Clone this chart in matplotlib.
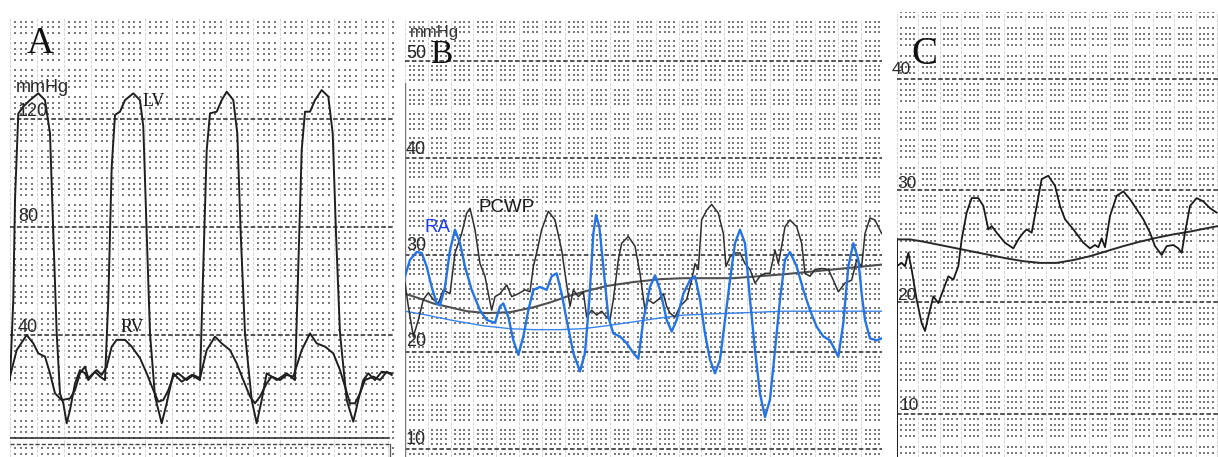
import numpy as np
import matplotlib
matplotlib.use("Agg")
import matplotlib.pyplot as plt

# ---------------- data ----------------
# Panel A : LV and RV pressure (mmHg) vs time (arbitrary units)
A_t_lv = [10, 13.3, 15, 18.3, 23.3, 30, 38.3, 45, 50, 53.3, 56.7, 60, 63.3, 66.7, 70, 75, 80, 85, 88.3, 95,
          100, 105, 108.3, 111.7, 115, 120, 125, 133.3, 140, 143.3, 146.7, 150, 155, 161.7, 166.7, 173.3,
          181.7, 191.7, 200, 203.3, 206.7, 210, 216.7, 221.7, 226.7, 233.3, 237.3, 240.7, 245, 251.7,
          256.7, 261.7, 266.7, 276.7, 286.7, 295, 298.3, 301.7, 305, 310, 315, 321.7, 328.3, 332.7, 336,
          340, 346.7, 353.3, 358.3, 363.3, 368.3, 375, 381.7, 391.7]
A_lv = [23.3, 53, 90, 122, 124.6, 127, 129.5, 127, 114.7, 77.7, 40.6, 18.4, 14.7, 7.3, 12.2, 22.1, 27, 25.8,
        23.3, 26.4, 24.6, 23.3, 53, 102.3, 121.5, 122.7, 127, 129.5, 127, 117.2, 77.7, 40.6, 17.2, 7.3,
        14.7, 25.8, 22.7, 25.2, 23.3, 65.3, 108.5, 122.1, 122.7, 127, 130.1, 127, 114.7, 77.7, 40.6, 15.9,
        7.3, 15.9, 25.8, 23.3, 25.8, 23.3, 65.3, 108.5, 122.7, 122.7, 127, 130.7, 128.3, 114.7, 77.7, 40.6,
        15.9, 7.9, 15.9, 23.3, 25.8, 23.3, 26.4, 25.8]
A_t_rv = [10, 16.7, 26.7, 33.3, 38.3, 45, 50, 55, 61.7, 70, 75, 80, 85, 88.3, 96.7, 101.7, 106.7, 111.7,
          116.7, 125, 131.7, 140, 146.7, 153.3, 158.3, 163.3, 168.3, 173.3, 178.3, 186.7, 193.3, 200,
          206.7, 215, 221.7, 230, 236.7, 243.3, 250, 255, 260, 266.7, 271.7, 280, 286.7, 293.3, 301.7,
          310, 316.7, 325, 333.3, 340, 345, 350, 355, 360, 365, 373.3, 380, 386.7, 391.7]
A_rv = [24.6, 34.4, 40, 36.9, 33.2, 32, 25.8, 18.4, 15.9, 16.5, 19.6, 25.8, 28.3, 24, 27, 25.2, 28.3, 35.7,
        38.2, 38.2, 35.7, 31.4, 25.8, 19.6, 15.3, 15.9, 19.6, 24.6, 25.8, 23.3, 25.2, 24, 34.4, 39.4, 36.9,
        34.4, 29.5, 23.3, 17.2, 14.7, 17.2, 22.1, 24.6, 23.3, 25.2, 24.6, 34.4, 40.6, 36.9, 35.7, 33.2, 27,
        20.9, 14.7, 14.7, 18.4, 23.3, 24.6, 23.3, 26.4, 25.2]
A_ticks = ["120", "80", "40"]
A_tick_vals = [120, 80, 40]

# Panel B : PCWP and RA (mmHg)
B_t_pcwp = [15, 25, 40, 55, 70, 85, 100, 115, 130, 150, 165, 185, 200, 210, 225, 240, 255, 265, 275, 285,
            300, 320, 335, 355, 375, 390, 400, 410, 425, 445, 465, 485, 495, 510, 520, 535, 550, 560, 575,
            590, 605, 620, 630, 640, 655, 665, 685, 705, 720, 735, 745, 760, 775, 790, 800, 810, 825, 840,
            860, 875, 885, 895, 905, 920, 935, 955, 970, 978, 990, 1005, 1020, 1035, 1050, 1065, 1080,
            1095, 1110, 1125, 1135, 1145, 1155, 1170, 1190, 1205, 1215, 1230, 1245, 1265, 1285, 1300,
            1315, 1335, 1355, 1370, 1385, 1395, 1410, 1425, 1445]
B_pcwp = [27.1, 24.7, 21.6, 23.3, 25.4, 26.1, 25.4, 25, 26.4, 26, 30.2, 32.2, 34.3, 34.8, 32.6, 29.1, 27.8,
          26, 24.3, 25.7, 26, 26.9, 25.7, 26, 26.4, 26.2, 28.8, 30.2, 32.6, 34.5, 33.6, 30.5, 28.1, 24.7,
          26.4, 25.7, 26.2, 23.6, 24.3, 23.8, 24.2, 23.6, 23.3, 25.4, 29.5, 31.2, 31.9, 30.9, 28.1, 24.3,
          25.4, 25, 25.4, 26, 24.7, 24, 23.6, 24.7, 25.4, 27.4, 29.1, 28.5, 33.6, 34.6, 35.2, 34.3, 32.2,
          28.8, 29.8, 30.2, 30.2, 29.1, 28.5, 27.1, 27.8, 28.1, 28.1, 30.5, 29.1, 30.9, 32.9, 33.6, 32.9,
          31.2, 28.1, 27.8, 28.5, 28.6, 28.5, 27.4, 26.2, 27.1, 27.4, 29.5, 28.8, 32.2, 33.8, 33.6, 32.2]
B_t_ra = [15, 30, 50, 65, 80, 95, 110, 120, 135, 150, 165, 180, 195, 215, 240, 260, 285, 300, 310, 325,
          340, 355, 370, 385, 400, 420, 440, 455, 470, 485, 500, 520, 540, 555, 568, 580, 588, 598, 610,
          625, 640, 660, 680, 700, 715, 730, 750, 765, 780, 800, 815, 830, 850, 870, 885, 900, 915, 930,
          945, 960, 975, 990, 1005, 1020, 1035, 1050, 1065, 1080, 1095, 1110, 1125, 1140, 1155, 1170,
          1190, 1210, 1230, 1250, 1270, 1290, 1305, 1315, 1330, 1345, 1360, 1375, 1385, 1395, 1410,
          1430, 1445]
B_ra = [27.8, 29.5, 30.3, 30.2, 28.8, 26.7, 25, 24.8, 26.7, 30.5, 32.6, 31.2, 28.8, 26.4, 24.3, 23.3, 23,
        24.7, 25, 23.6, 21.2, 19.7, 21.6, 24.3, 26.4, 26.7, 26.4, 27.8, 28.1, 26, 23.3, 19.9, 18, 19.9,
        25.4, 32.2, 34.1, 32.9, 28.8, 23.6, 21.9, 21.6, 20.9, 19.9, 19.3, 23.3, 26.7, 27.9, 26.4, 23.3,
        22.1, 23.3, 26, 27.4, 27.8, 25.4, 21.9, 19.2, 17.8, 19.2, 23.3, 27.4, 31.2, 32.6, 31.2, 25.4,
        20.2, 15.7, 13.3, 15.1, 20.2, 25.4, 29.5, 30.3, 28.8, 26.4, 24.3, 22.6, 21.6, 21.2, 20.2, 19.5,
        23, 28.8, 31.2, 29.5, 26, 23.3, 21.4, 21.2, 21.4]
B_t_pcwp_mean = [15, 60, 100, 150, 200, 260, 330, 400, 450, 500, 550, 620, 700, 780, 850, 1000, 1150,
                 1300, 1445]
B_pcwp_mean = [26.0, 25.5, 25.0, 24.6, 24.2, 24.0, 24.1, 24.6, 25.1, 25.7, 26.2, 26.8, 27.2, 27.5, 27.6,
               27.6, 28.0, 28.5, 29.0]
B_t_ra_mean = [15, 80, 150, 250, 330, 400, 480, 550, 620, 700, 780, 850, 1000, 1150, 1300, 1445]
B_ra_mean = [24.2, 23.8, 23.3, 22.7, 22.4, 22.3, 22.3, 22.4, 22.7, 23.1, 23.5, 23.8, 24.0, 24.2, 24.2, 24.2]
B_ticks = ["50", "40", "30", "20", "10"]
B_tick_vals = [50, 40, 30, 20, 10]

# Panel C : pressure trace (mmHg)
C_t = [20, 35, 45, 55, 65, 80, 95, 105, 115, 130, 145, 160, 175, 190, 205, 215, 230, 245, 265, 280, 295,
       305, 320, 345, 370, 385, 400, 410, 425, 440, 455, 475, 495, 510, 525, 550, 580, 600, 615, 625, 635,
       645, 660, 680, 700, 720, 740, 760, 780, 795, 815, 830, 850, 865, 875, 885, 900, 920, 940, 960, 980]
C_p = [23.2, 23.5, 23.2, 24.4, 22.9, 20.2, 18.1, 17.4, 18.7, 20.5, 19.9, 21.1, 22.3, 22, 23.2, 25.6, 28,
       29.3, 29.3, 28.6, 26.5, 26.8, 26.2, 25.3, 24.8, 25.6, 26.2, 26.5, 26.2, 28.6, 31, 31.3, 30.4, 28.6,
       27.4, 26.5, 25.3, 24.8, 25.1, 24.9, 25.7, 24.9, 27.7, 29.5, 29.9, 29.2, 28.3, 27.4, 26.2, 25, 24.2,
       25, 25.1, 24.8, 24.4, 26.2, 28.6, 29.3, 29, 28.4, 28]
C_t_mean = [20, 60, 100, 150, 200, 250, 300, 350, 400, 450, 500, 550, 600, 650, 700, 750, 800, 850, 900,
            950, 985]
C_mean = [25.6, 25.6, 25.4, 25.1, 24.8, 24.5, 24.2, 23.9, 23.65, 23.5, 23.5, 23.75, 24.1, 24.55, 25.0,
          25.4, 25.75, 26.05, 26.3, 26.6, 26.8]
C_ticks = ["40", "30", "20", "10"]
C_tick_vals = [40, 30, 20, 10]

# ---------------- figure ----------------
W, H = 1218, 457
fig = plt.figure(figsize=(W / 100, H / 100), dpi=100)
fig.patch.set_facecolor("white")

SANS = "Liberation Sans"
SERIF = "Liberation Serif"
INK = "#1f1f1f"
DASH = "#262626"


def add_ax(px0, py0, px1, py1, xlim, ylim):
    ax = fig.add_axes([px0 / W, 1 - py1 / H, (px1 - px0) / W, (py1 - py0) / H])
    ax.set_xlim(*xlim)
    ax.set_ylim(*ylim)
    ax.axis("off")
    return ax


def paper(ax, x0, x1, bx, y0, y1, by):
    xs = x0 + np.arange(int((x1 - x0) / bx * 5) + 2) * bx / 5
    kx = np.arange(len(xs))
    ys = y0 + np.arange(int((y1 - y0) / by * 5) + 2) * by / 5
    ky = np.arange(len(ys))
    X, Y = np.meshgrid(xs[kx % 5 != 0], ys[ky % 5 != 0])
    ax.scatter(X.ravel(), Y.ravel(), s=1.5, marker="s", c="#7a7a7a", linewidths=0, zorder=1)
    for xv in xs[kx % 5 == 0]:
        ax.axvline(xv, color="#cfcfcf", lw=0.6, dashes=(4, 1.5), zorder=1)


def ptext(x, y, s, **kw):
    fig.text(x / W, 1 - y / H, s, va="center", ha="left", **kw)


# Panel A
axA = add_ax(10, 18, 393, 457, (10, 393), (-5.19, 157.4))
paper(axA, 10, 393, 27, -10, 157.4, 10)
for v in A_tick_vals:
    axA.axhline(v, color=DASH, lw=1.1, dashes=(3, 1.5), zorder=2)
axA.axhline(2.0, xmax=0.99, color="#333333", lw=1.2, zorder=2)
axA.axhline(-0.2, xmax=0.99, color="#444444", lw=1.0, dashes=(3, 1.5), zorder=2)
axA.plot([390, 390], [-0.2, -5.19], color="#555555", lw=0.9, zorder=2)
axA.plot(A_t_lv, A_lv, color=INK, lw=1.4, zorder=3)
axA.plot(A_t_rv, A_rv, color=INK, lw=1.4, zorder=3)

ptext(27, 44, "A", fontsize=27, family=SERIF, color="#111111")
ptext(16, 87, "mmHg", fontsize=13, family=SANS, color="#2a2a2a")
for s, y in zip(A_ticks, [111, 217, 327]):
    ptext(18, y, s, fontsize=13, family=SANS, color="#2a2a2a")
ptext(143, 101, "LV", fontsize=13, family=SERIF, color="#1a1a1a")
ptext(121, 327, "RV", fontsize=13, family=SERIF, color="#1a1a1a")

# Panel B
axB = add_ax(405, 20, 882, 457, (15, 1446), (9.18, 54.2))
paper(axB, 15, 1446, 68.4, 7.5, 54.2, 2.5)
for v in B_tick_vals:
    axB.axhline(v, color=DASH, lw=1.1, dashes=(3, 1.5), zorder=2)
axB.plot([15, 15], [47.7, 9.18], color="#777777", lw=1.0, zorder=2)
axB.plot(B_t_pcwp_mean, B_pcwp_mean, color="#505050", lw=1.5, zorder=3)
axB.plot(B_t_ra_mean, B_ra_mean, color="#3a85ea", lw=1.0, zorder=3)
axB.plot(B_t_pcwp, B_pcwp, color="#2e2e2e", lw=1.1, zorder=3)
axB.plot(B_t_ra, B_ra, color="#2474e6", lw=1.7, zorder=4)

ptext(410, 33, "mmHg", fontsize=12, family=SANS, color="#333333")
ptext(430, 55, "B", fontsize=24, family=SERIF, color="#111111")
for s, y in zip(B_ticks, [53, 150, 245, 342, 440]):
    ptext(406, y, s, fontsize=13, family=SANS, color="#2a2a2a")
ptext(478, 207, "PCWP", fontsize=13.5, family=SANS, color="#1a1a1a")
ptext(424, 227, "RA", fontsize=13.5, family=SANS, color="#1f3ff0")

# Panel C
axC = add_ax(897, 12, 1218, 457, (21, 984), (6.12, 45.96))
paper(axC, 21, 984, 64, 5, 46, 2.5)
for v in C_tick_vals:
    axC.axhline(v, color=DASH, lw=1.1, dashes=(3, 1.5), zorder=2)
axC.plot([22, 22], [C_mean[0], 6.12], color="#1a1a1a", lw=1.4, zorder=3)
axC.plot(C_t_mean, C_mean, color="#2a2a2a", lw=1.4, zorder=3)
axC.plot(C_t, C_p, color="#1a1a1a", lw=1.3, zorder=3)

ptext(911, 54, "C", fontsize=28, family=SERIF, color="#111111")
for s, (x, y) in zip(C_ticks, [(892, 69), (897, 183), (897, 295), (900, 405)]):
    ptext(x, y, s, fontsize=12.5, family=SANS, color="#2a2a2a")

fig.savefig("out.png", dpi=100, facecolor="white")
